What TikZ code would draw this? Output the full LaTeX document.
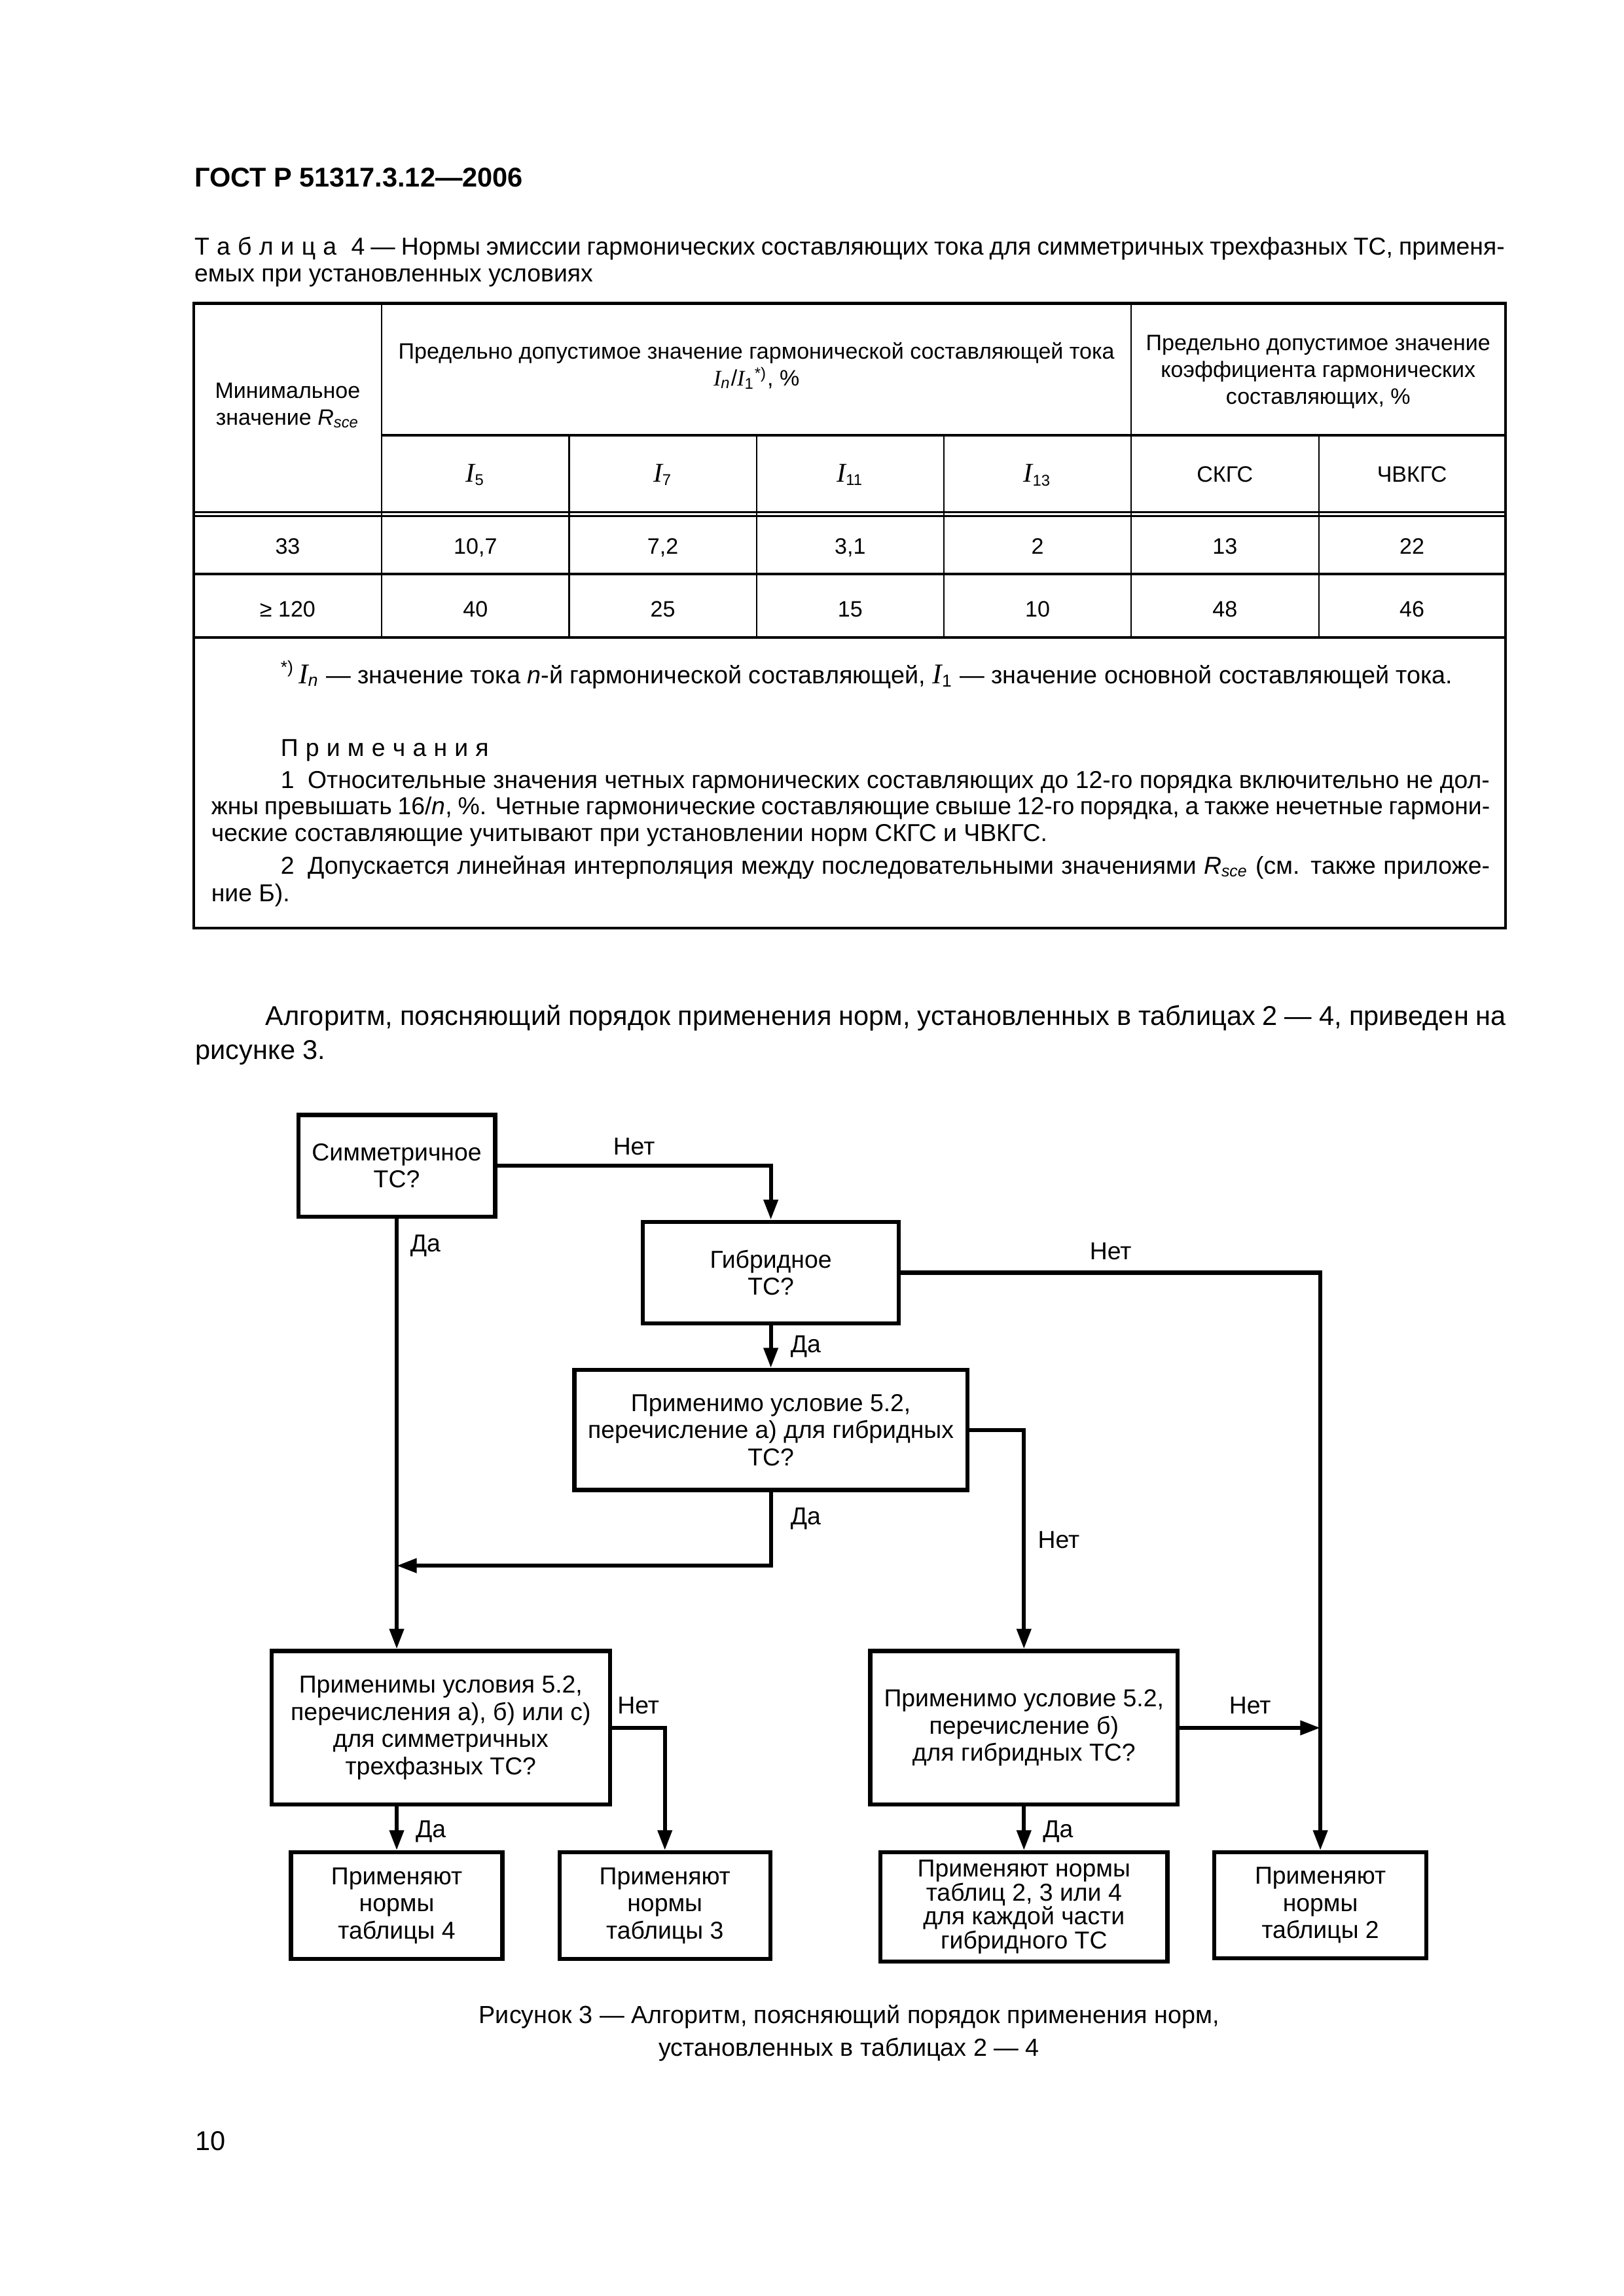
\documentclass[tikz,border=0pt]{standalone}
\usepackage{fontspec}
\setmainfont{Liberation Sans}
\newfontfamily\tnr{Liberation Serif}
\usetikzlibrary{arrows.meta,positioning}
\newdimen\gu \gu=0.18936mm
\newcommand{\cur}[1]{{\tnr\itshape #1}}
\newcommand{\bigcur}[1]{{\fontsize{10}{12}\selectfont\tnr\itshape #1}}
\newcommand{\jline}[2]{\makebox[#1\gu][s]{#2}}
\newcommand{\hs}{\hspace{.3em}}
\tikzset{
txt/.style={anchor=base west,inner sep=0pt,font=\fontsize{9}{10.8}\selectfont},
tcell/.style={inner sep=0pt,align=center,font=\fontsize{8.2}{9.9}\selectfont},
tcellb/.style={tcell,anchor=base},
rulethick/.style={line width=1pt},
rulethin/.style={line width=.5pt},
box/.style={draw,line width=1.5pt,align=center,inner sep=1pt,font=\fontsize{9}{10}\selectfont},
lbl/.style={inner sep=0pt,font=\fontsize{9}{10}\selectfont},
arr/.style={line width=1.5pt,-{Triangle[length=2.6mm,width=1.8mm]}}
}
\begin{document}
\begin{tikzpicture}[x=0.18936mm,y=-0.18936mm]
\fill[white] (0,0) rectangle (1109,1568.7);
\useasboundingbox (0,0) rectangle (1109,1568.7);

% page head and table title
\node[txt,font=\fontsize{10}{12}\selectfont\bfseries] (gost) at (132.5,127.5) {ГОСТ Р 51317.3.12—2006};
\node[txt] (ttl1) at (132.5,174) {\jline{895}{Т\hs а\hs б\hs л\hs и\hs ц\hs а\hspace{.6em}4 — Нормы эмиссии гармонических составляющих тока для симметричных трехфазных ТС, применя-}};
\node[txt] (ttl2) at (132.5,192.5) {емых при установленных условиях};

% table rules
\draw[rulethick] (132.2,207.3) rectangle (1028.3,634);
\draw[rulethick] (260.7,297.4) -- (1028.3,297.4);
\draw[line width=.6pt] (132.2,350) -- (1028.3,350) (132.2,352.6) -- (1028.3,352.6);
\draw[rulethick] (132.2,392.1) -- (1028.3,392.1) (132.2,435.5) -- (1028.3,435.5);
\foreach \cx in {260.7,772.7} \draw[rulethin] (\cx,207.3) -- (\cx,435.5);
\foreach \cx in {388.8,516.8,644.8,900.9} \draw[rulethin] (\cx,297.4) -- (\cx,435.5);

% table head
\node[tcell] (rmin) at (196.5,277) {Минимальное\\значение \textit{R}\textsubscript{\textit{sce}}};
\node[tcell] (harm) at (516.8,250) {Предельно допустимое значение гармонической составляющей тока\\\cur{I}\textsubscript{\textit{n}}/\cur{I}\textsubscript{1}\textsuperscript{*)}, \%};
\node[tcell] (coef) at (900.5,254) {Предельно допустимое значение\\коэффициента гармонических\\составляющих, \%};
\foreach \cx/\t [count=\i] in {324.8/{\bigcur{I}\textsubscript{5}},452.8/{\bigcur{I}\textsubscript{7}},580.8/{\bigcur{I}\textsubscript{11}},708.8/{\bigcur{I}\textsubscript{13}},836.8/СКГС,964.6/ЧВКГС}
  \node[tcellb] (sub\i) at (\cx,329.5) {\t};

% table rows
\foreach \cx/\a/\b [count=\i] in {196.5/33/{≥ 120},324.8/{10,7}/40,452.8/{7,2}/25,580.8/{3,1}/15,708.8/2/10,836.8/13/48,964.6/22/46}{
  \node[tcellb] (ra\i) at (\cx,378.5) {\a};
  \node[tcellb] (rb\i) at (\cx,421.6) {\b};
}

% footnote and notes
\node[txt,font=\fontsize{9.1}{10.8}\selectfont] (fn) at (191.4,467) {\textsuperscript{*)}\,{\fontsize{10.5}{12}\selectfont\cur{I}}\textsubscript{\textit{n}} — значение тока \textit{n}-й гармонической составляющей, {\fontsize{10.5}{12}\selectfont\cur{I}}\textsubscript{1} — значение основной составляющей тока.};
\node[txt] (prim) at (191.4,516.5) {П\hs р\hs и\hs м\hs е\hs ч\hs а\hs н\hs и\hs я};
\node[txt] (n1a) at (191.4,538.5) {\jline{826}{1\hspace{.55em}Относительные значения четных гармонических составляющих до 12-го порядка включительно не дол-}};
\node[txt] (n1b) at (144,556.5) {\jline{873.5}{жны превышать 16/\textit{n}, \%. Четные гармонические составляющие свыше 12-го порядка, а также нечетные гармони-}};
\node[txt] (n1c) at (144,575) {ческие составляющие учитывают при установлении норм СКГС и ЧВКГС.};
\node[txt] (n2a) at (191.4,597) {\jline{826}{2\hspace{.55em}Допускается линейная интерполяция между последовательными значениями \textit{R}\textsubscript{\textit{sce}} (см. также приложе-}};
\node[txt] (n2b) at (144,616) {ние Б).};

% paragraph
\node[txt,font=\fontsize{10}{12}\selectfont] (par1) at (181.1,700.7) {\jline{847.4}{Алгоритм, поясняющий порядок применения норм, установленных в таблицах 2 — 4, приведен на}};
\node[txt,font=\fontsize{10}{12}\selectfont] (par2) at (133.2,723.7) {рисунке 3.};

% flowchart
\node[box,minimum width=25.47mm,minimum height=13.16mm] (sym) at (271,796.5) {Симметричное\\ТС?};
\node[box,minimum width=33.14mm,minimum height=13.16mm] (hyb) at (526.6,869.5) {Гибридное\\ТС?};
\node[box,minimum width=50.82mm,minimum height=15.53mm] (hyba) at (526.6,977) {Применимо условие 5.2,\\перечисление а) для гибридных\\ТС?};
\node[box,minimum width=43.74mm,minimum height=19.88mm] (symabc) at (301.1,1180.5) {Применимы условия 5.2,\\перечисления а), б) или с)\\для симметричных\\трехфазных ТС?};
\node[box,minimum width=39.77mm,minimum height=19.88mm] (hybb) at (699.5,1180.5) {Применимо условие 5.2,\\перечисление б)\\для гибридных ТС?};
\node[box,minimum width=27.36mm,minimum height=13.8mm] (tab4) at (271,1302) {Применяют\\нормы\\таблицы 4};
\node[box,minimum width=27.27mm,minimum height=13.8mm] (tab3) at (454.2,1302) {Применяют\\нормы\\таблицы 3};
\node[box,minimum width=37.11mm,minimum height=14.09mm,font=\fontsize{9}{8.8}\selectfont] (tabh) at (699.5,1302.8) {Применяют нормы\\таблиц 2, 3 или 4\\для каждой части\\гибридного ТС};
\node[box,minimum width=27.46mm,minimum height=13.71mm] (tab2) at (902,1301.8) {Применяют\\нормы\\таблицы 2};
\coordinate (merge) at (271,1069.7);

\draw[arr] (sym.east) -| node[lbl,above=1.1mm,pos=.25] (n1) {Нет} (hyb.north);
\draw[arr] (sym.south) -- node[lbl,right=1.5mm,pos=.063] (y1) {Да} (sym.south |- symabc.north);
\draw[arr] (hyb.south) -- node[lbl,right=2.3mm] (y2) {Да} (hyba.north);
\draw[arr] (hyb.east) -| node[lbl,above=1.4mm,pos=.25] (n2) {Нет} (tab2.north);
\draw[arr] (hyba.east) -| node[lbl,right=1.55mm,pos=.751] (n3) {Нет} (hybb.north);
\draw[arr] (hyba.south) |- node[lbl,right=2.3mm,pos=.179] (y3) {Да} (merge);
\draw[arr] (symabc.east) -| node[lbl,above=1.5mm,pos=.25] (n4) {Нет} (tab3.north);
\draw[arr] (tab4.north |- symabc.south) -- node[lbl,right=2.2mm,pos=.567] (y4) {Да} (tab4.north);
\draw[arr] (hybb.south) -- node[lbl,right=2.2mm,pos=.567] (y5) {Да} (tabh.north);
\draw[arr] (hybb.east) -- node[lbl,above=1.5mm] (n5) {Нет} (hybb.east -| tab2.north);

% caption and page number
\node[tcellb,font=\fontsize{9.1}{11}\selectfont] (fig1) at (580,1382.5) {Рисунок 3 — Алгоритм, поясняющий порядок применения норм,};
\node[tcellb,font=\fontsize{9.1}{11}\selectfont] (fig2) at (580,1404.9) {установленных в таблицах 2 — 4};
\node[txt,font=\fontsize{10}{12}\selectfont] (pgno) at (133.2,1469) {10};
\end{tikzpicture}
\end{document}
